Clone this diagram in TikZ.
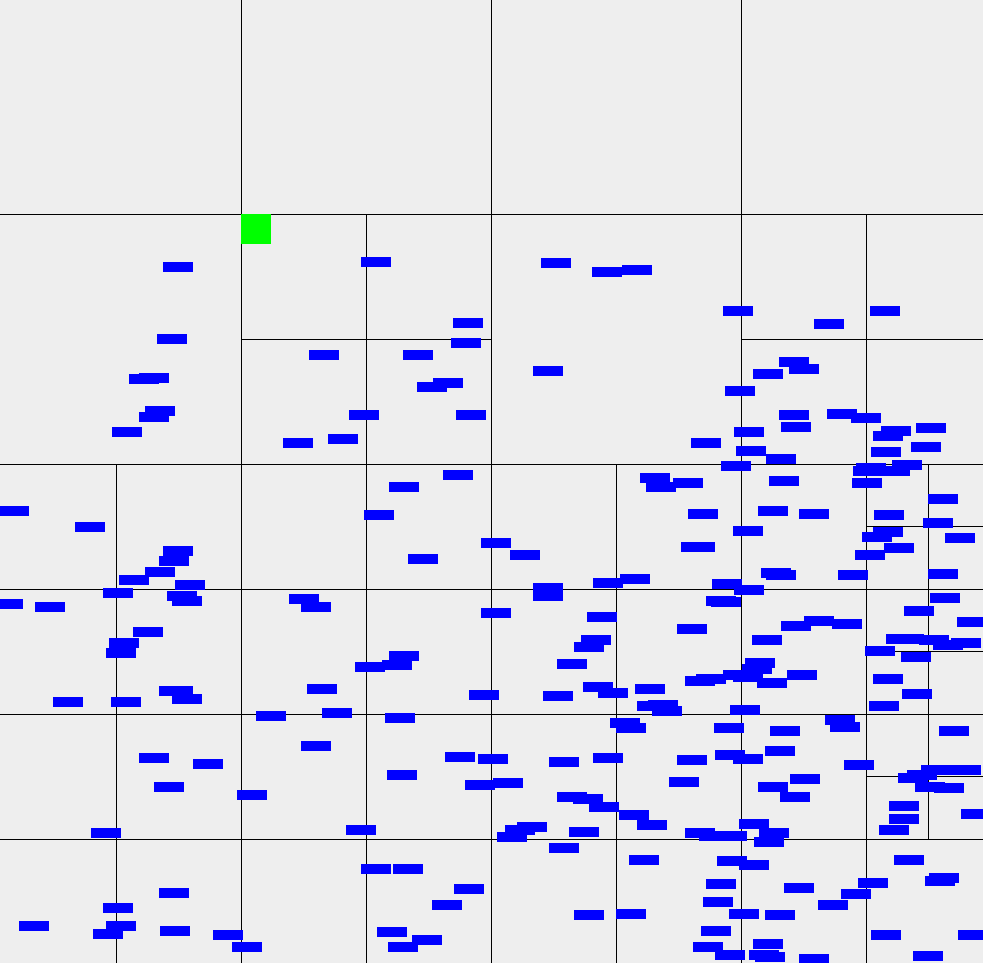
\documentclass[tikz,border=0pt]{standalone}
\begin{document}
\begin{tikzpicture}[x=1pt,y=-1pt,
  gridline/.style={black,line width=1pt},
  item/.style={fill={rgb,255:red,0;green,0;blue,255}}]
\definecolor{bgc}{RGB}{238,238,238}
\definecolor{greenmarker}{RGB}{0,255,0}
\useasboundingbox (0,0) rectangle (983,963);
\clip (0,0) rectangle (983,963);
\fill[bgc] (0,0) rectangle (983,963);
% grid verticals
\draw[gridline] (241.3,0) -- (241.3,963);
\draw[gridline] (491.3,0) -- (491.3,963);
\draw[gridline] (741.3,0) -- (741.3,963);
\draw[gridline] (116.3,464.3) -- (116.3,963);
\draw[gridline] (366.3,214.3) -- (366.3,963);
\draw[gridline] (616.3,464.3) -- (616.3,963);
\draw[gridline] (866.3,214.3) -- (866.3,963);
\draw[gridline] (928.6,464.3) -- (928.6,839.3);
% grid horizontals
\draw[gridline] (0,214.3) -- (983,214.3);
\draw[gridline] (0,464.3) -- (983,464.3);
\draw[gridline] (0,589.3) -- (983,589.3);
\draw[gridline] (0,714.3) -- (983,714.3);
\draw[gridline] (0,839.3) -- (983,839.3);
\draw[gridline] (241.3,339.3) -- (491.3,339.3);
\draw[gridline] (741.3,339.3) -- (983,339.3);
\draw[gridline] (866.3,526.8) -- (983,526.8);
\draw[gridline] (866.3,651.6) -- (983,651.6);
\draw[gridline] (866.3,776.6) -- (983,776.6);
% green marker
\fill[greenmarker] (241.3,214.3) rectangle (271,243.6);
% blue items
\foreach \px/\py in {
163/262,361/257,541/258,592/267,622/265,
157/334,453/318,451/338,309/350,403/350,533/366,
129/374,139/373,417/382,433/378,
145/406,139/412,112/427,349/410,456/410,283/438,328/434,
443/470,389/482,640/473,646/482,673/478,
723/306,814/319,870/306,
779/357,789/364,753/369,725/386,
779/410,827/409,851/413,781/422,734/427,916/423,881/426,873/431,691/438,911/442,736/446,871/447,766/454,721/461,856/463,892/460,853/466,880/466,769/476,852/478,
-1/506,75/522,163/546,159/556,145/567,119/575,175/580,103/588,167/591,172/596,-7/599,35/602,289/594,301/602,133/627,109/638,106/648,159/686,163/686,53/697,111/697,172/694,307/684,256/711,322/708,
364/510,481/538,510/550,408/554,533/583,533/591,593/578,620/574,481/608,587/612,581/635,574/642,557/659,389/651,382/660,355/662,469/690,543/691,583/682,598/688,635/684,637/701,648/700,652/706,385/713,610/718,616/723,
688/509,758/506,799/509,733/526,681/542,685/542,874/510,928/494,923/518,873/527,862/532,945/533,884/543,855/550,761/568,766/570,838/570,928/569,712/579,734/585,706/596,711/597,930/593,904/606,957/617,677/624,781/621,804/616,832/619,752/635,886/634,894/634,919/635,951/638,933/640,865/646,901/652,745/658,742/664,723/670,696/674,685/676,733/672,757/678,787/670,873/674,902/689,869/701,730/705,825/715,830/722,714/723,
301/741,139/753,193/759,154/782,237/790,91/828,159/888,103/903,19/921,106/921,93/929,160/926,213/930,232/942,
445/752,478/754,549/757,593/753,387/770,465/780,493/778,557/792,573/794,589/802,619/810,637/820,346/825,517/822,505/825,497/832,569/827,549/843,629/855,361/864,393/864,454/884,432/900,574/910,616/909,377/927,412/935,388/942,
770/726,939/726,677/755,715/750,733/754,765/746,844/760,669/777,790/774,758/782,780/792,921/765,951/765,907/770,898/773,915/782,934/783,961/809,889/801,889/814,879/825,685/828,699/831,717/831,739/819,759/828,754/837,717/856,739/860,894/855,929/873,925/876,706/879,784/883,858/878,841/889,818/900,703/897,729/909,765/910,701/926,871/930,958/930,693/942,753/939,715/950,749/950,755/952,799/954,913/951}
  \fill[item] (\px,\py) rectangle ++(30,10);
\end{tikzpicture}
\end{document}
